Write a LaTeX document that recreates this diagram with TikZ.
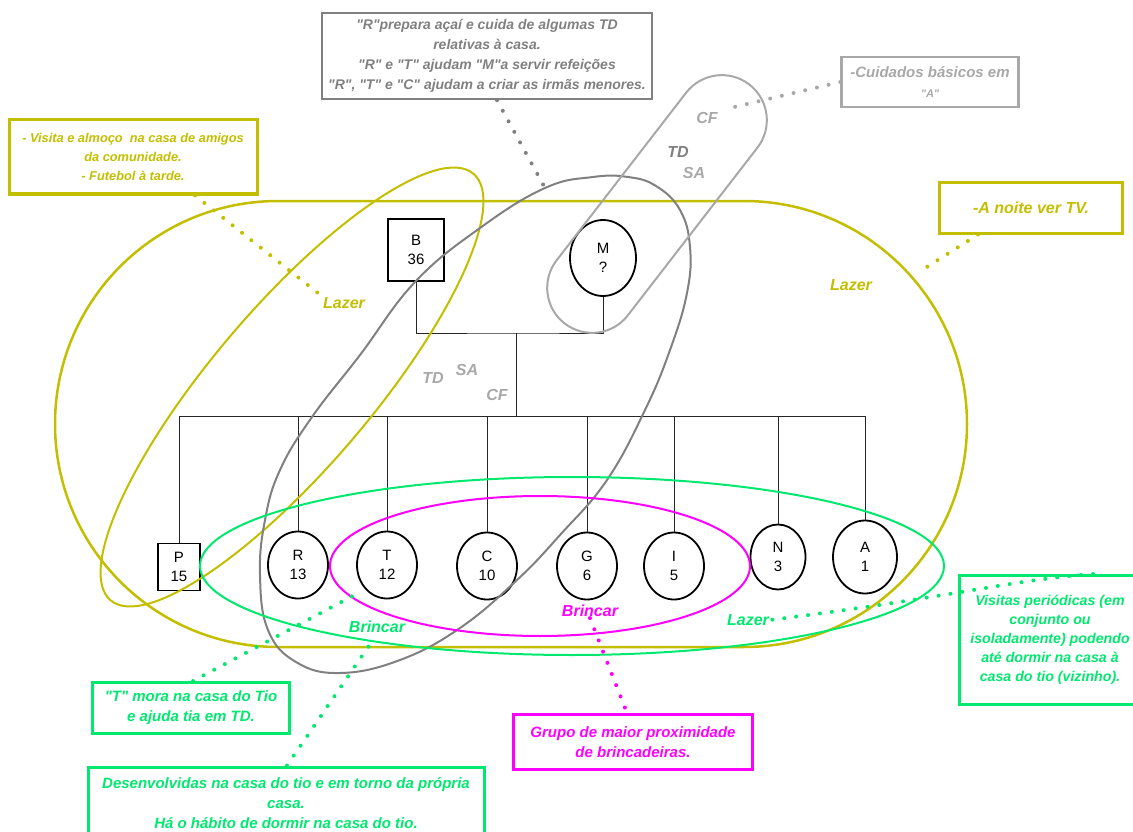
\documentclass[tikz,border=0pt]{standalone}
\usepackage{fontspec}
\setmainfont{Liberation Sans}[Ligatures=TeXOff]
\usetikzlibrary{shapes.geometric}

\definecolor{lazeryellow}{RGB}{196,190,0}
\definecolor{brincgreen}{RGB}{0,232,110}
\definecolor{brincpink}{RGB}{255,0,255}
\definecolor{tdgray}{RGB}{128,128,128}
\definecolor{cfsilver}{RGB}{168,168,168}

\tikzset{
    person/.style={draw, line width=1.8pt, align=center, inner sep=0pt, font=\fontsize{15}{19}\selectfont},
    man/.style={person, rectangle},
    woman/.style={person, ellipse, minimum width=60pt, minimum height=67pt},
    stem/.style={line width=0.8pt, black!85},
    ring/.style={line width=2pt},
    note/.style={draw, line width=3pt, align=center, inner sep=2pt, font=\bfseries\itshape\fontsize{15}{20}\selectfont},
    tag/.style={font=\bfseries\itshape\fontsize{16}{18}\selectfont, inner sep=1pt},
    dots/.style={line width=4pt, dash pattern=on 0pt off 12pt, line cap=round}
}

\begin{document}
\begin{tikzpicture}[x=1pt, y=-1pt]
    \useasboundingbox (0,0) rectangle (1133,832);

    % parents
    \node[man, minimum width=56pt, minimum height=62pt] (B) at (416,250) {B\\36};
    \node[woman, minimum width=66pt, minimum height=76pt] (M) at (603,258) {M\\?};
    \coordinate (couple) at (516,333);
    \coordinate (sib) at (516,416);
    \draw[stem] (B.south) |- (couple) -| (M.south);
    \draw[stem] (couple) -- (sib);

    % children
    \node[man, minimum width=42pt, minimum height=47pt] (P) at (179,567) {P\\15};
    \node[woman] (R) at (298,565) {R\\13};
    \node[woman] (T) at (387,565) {T\\12};
    \node[woman] (C) at (487,566) {C\\10};
    \node[woman] (G) at (587,566) {G\\6};
    \node[woman] (I) at (674,566) {I\\5};
    \node[woman, minimum width=55pt, minimum height=65pt] (N) at (778,557) {N\\3};
    \node[woman, minimum width=64pt, minimum height=73pt] (A) at (865,557) {A\\1};
    \foreach \k in {P,R,T,C,G,I,N,A} {
        \draw[stem] (sib) -| (\k.north);
    }

    % groups
    \draw[ring, lazeryellow, line width=2.5pt, rounded corners=223pt] (55,201) rectangle (967,647);
    \node[ring, draw=lazeryellow, ellipse, minimum width=560pt, minimum height=160pt, rotate=49.6] (friendloop) at (292,387) {};
    \draw[ring, tdgray] plot[smooth cycle, tension=0.7] coordinates {
        (545,188) (593,177) (628,177) (656,186) (680,210) (690,247) (687,293)
        (670,350) (645,410) (607,480) (560,535) (517,580) (460,628) (400,660)
        (340,673) (296,662) (268,630) (260,575) (265,520) (280,470) (312,417)
        (360,355) (415,282) (480,228)};
    \node[ring, draw=cfsilver, rectangle, rounded corners=45pt, minimum width=302pt, minimum height=90pt, rotate=52.3] (careloop) at (657,204) {};
    \node[ring, draw=brincgreen, ellipse, minimum width=744pt, minimum height=178pt] (playloop) at (572,566) {};
    \node[ring, draw=brincpink, ellipse, minimum width=420pt, minimum height=140pt] (pinkloop) at (540,566) {};

    % tags
    \node[tag, lazeryellow] (lazerA) at (344,303) {Lazer};
    \node[tag, lazeryellow] (lazerB) at (851,285) {Lazer};
    \node[tag, cfsilver] (tdA) at (433,378) {TD};
    \node[tag, cfsilver] (saA) at (467,370) {SA};
    \node[tag, cfsilver] (cfA) at (497,395) {CF};
    \node[tag, cfsilver] (cfB) at (707,118) {CF};
    \node[tag, tdgray] (tdB) at (678,152) {TD};
    \node[tag, cfsilver] (saB) at (694,173) {SA};
    \node[tag, brincgreen] (brincA) at (377,627) {Brincar};
    \node[tag, brincpink] (brincB) at (590,611) {Brincar};
    \node[tag, brincgreen] (lazerC) at (748,620) {Lazer};

    % notes
    \node[note, tdgray, line width=2.5pt, font=\bfseries\itshape\fontsize{14}{20}\selectfont, minimum width=330pt, minimum height=86pt] (homebox) at (487,56)
        {"R"prepara açaí e cuida de algumas TD\\relativas à casa.\\"R" e "T" ajudam "M"a servir refeições\\"R", "T" e "C" ajudam a criar as irmãs menores.};
    \node[note, cfsilver, line width=2.5pt, minimum width=177pt, minimum height=50pt] (carebox) at (930,82)
        {-Cuidados básicos em\\{\fontsize{11}{13}\selectfont "A"}};
    \node[note, lazeryellow, font=\bfseries\itshape\fontsize{12.8}{19}\selectfont, minimum width=248pt, minimum height=74pt] (visitbox) at (133,157)
        {- Visita e almoço\ \ na casa de amigos\\da comunidade.\\- Futebol à tarde.};
    \node[note, lazeryellow, font=\bfseries\itshape\fontsize{16}{18}\selectfont, minimum width=183pt, minimum height=50pt] (tvbox) at (1031,208)
        {-A noite ver TV.};
    \node[note, brincgreen, minimum width=197pt, minimum height=51pt] (unclebox) at (191,708)
        {"T" mora na casa do Tio\\e ajuda tia em TD.};
    \node[note, brincgreen, minimum width=396pt, minimum height=72pt] (playbox) at (286,803)
        {Desenvolvidas na casa do tio e em torno da própria\\casa.\\Há o hábito de dormir na casa do tio.};
    \node[note, brincpink, minimum width=239pt, minimum height=55pt] (groupbox) at (633,742)
        {Grupo de maior proximidade\\de brincadeiras.};
    \node[note, brincgreen, font=\bfseries\itshape\fontsize{14.2}{19}\selectfont, minimum width=182pt, minimum height=129pt] (tripbox) at (1050,640)
        {Visitas periódicas (em\\conjunto ou\\isoladamente) podendo\\até dormir na casa à\\casa do tio (vizinho).};

    % dotted links
    \coordinate (homeend) at (545,188);
    \coordinate (careend) at (730,108);
    \coordinate (tvend) at (919,272);
    \draw[dots, tdgray] ([xshift=10pt]homebox.south) -- (homeend);
    \draw[dots, cfsilver] (carebox.west) -- (careend);
    \draw[dots, lazeryellow] ([xshift=62pt]visitbox.south) -- (lazerA.north west);
    \draw[dots, lazeryellow] ([xshift=-53pt]tvbox.south) -- (tvend);
    \draw[dots, brincgreen, shorten >=8pt] ([xshift=2pt]unclebox.north) -- (T.south west);
    \draw[dots, brincgreen, shorten >=6pt] ([xshift=1pt]playbox.north) -- (brincA.south);
    \draw[dots, brincpink] (brincB.south) -- ([xshift=-6pt]groupbox.north);
    \draw[dots, brincgreen] ([xshift=43pt]tripbox.north) .. controls (1010,580) and (960,596) .. (lazerC.east);
\end{tikzpicture}
\end{document}
